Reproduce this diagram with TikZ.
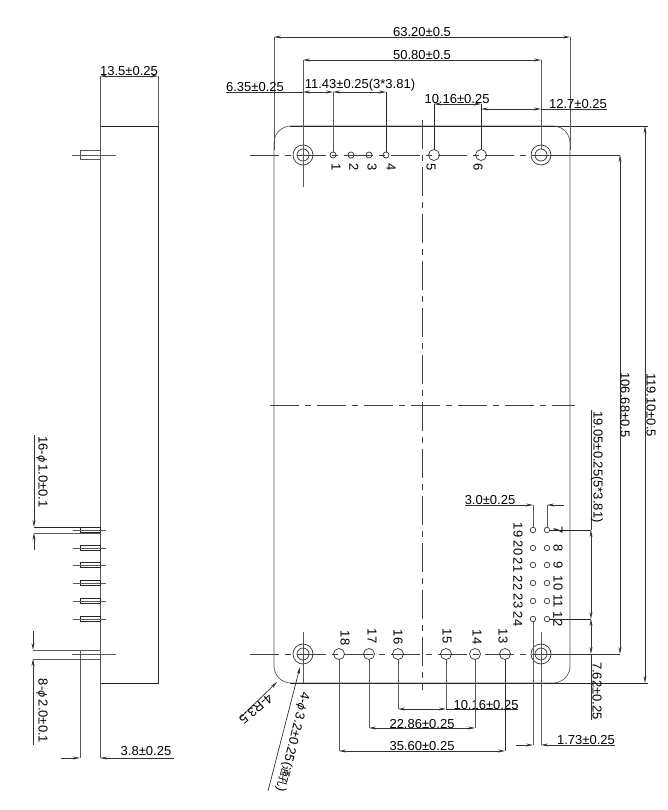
\documentclass[tikz,border=0pt]{standalone}
\usepackage{fontspec}
\setmainfont{Liberation Sans}
\newfontfamily\symfont{DejaVu Sans}
\newfontfamily\cjkfont{Noto Sans CJK SC}
\usetikzlibrary{arrows.meta}
\newcommand{\dia}{{\symfont\itshape\fontsize{11}{11}\selectfont ϕ}}
\tikzstyle{every node}=[inner sep=0pt,font=\fontsize{13}{13}\selectfont]
\tikzstyle{part}=[line width=0.9pt,black!85]
\tikzstyle{thinpart}=[line width=0.7pt,black!65]
\tikzstyle{dimline}=[line width=0.7pt,black!80,>={Stealth[length=7pt,width=3pt]}]
\tikzstyle{axisline}=[line width=0.6pt,black!75,dash pattern=on 29pt off 6pt on 6pt off 6pt]
\tikzstyle{hole}=[circle,draw,line width=0.7pt,black!80]
\tikzstyle{pinnum}=[rotate=-90]

\begin{document}
\begin{tikzpicture}[x=1pt,y=-1pt]
  \useasboundingbox (0,0) rectangle (667,810);

  % front view
  \draw[thinpart,rounded corners=17pt] (274,405) -- (274,683) -- (570,683) -- (570,405);
  \draw[thinpart,rounded corners=17pt] (274,405) -- (274,126) -- (570,126) -- (570,405);
  \draw[part] (290,126) -- (648,126);
  \draw[part] (290,683) -- (648,683);
  \draw[thinpart] (274,37) -- (274,150);
  \draw[thinpart] (570,37) -- (570,150);

  % center lines
  \draw[axisline] (250,155) -- (610,155);
  \draw[axisline] (250,654) -- (610,654);
  \draw[axisline] (270,405) -- (575,405);
  \draw[axisline] (422,120) -- (422,690);
  \draw[thinpart] (303,632) -- (303,683);
  \draw[thinpart] (541,632) -- (541,745);

  % mounting holes
  \foreach \name/\x/\y in {mtA/303/155,mtB/541/155,mtC/303/654,mtD/541/654} {
    \node[hole,minimum size=20pt] (\name) at (\x,\y) {};
    \node[hole,minimum size=12pt] (\name i) at (\x,\y) {};
  }

  % pins
  \foreach \n/\x in {1/333,2/351,3/369,4/386}
    \node[hole,minimum size=6pt] (pin\n) at (\x,155) {};
  \foreach \n/\x in {5/434,6/481}
    \node[hole,minimum size=11pt] (pin\n) at (\x,155) {};
  \foreach \n/\x in {18/339,17/369,16/398,15/446,14/475,13/505}
    \node[hole,minimum size=11pt] (pin\n) at (\x,654) {};
  \foreach \a/\b/\y in {19/7/530,20/8/548,21/9/565,22/10/583,23/11/601,24/12/619} {
    \node[hole,minimum size=5.5pt] (pin\a) at (533,\y) {};
    \node[hole,minimum size=5.5pt] (pin\b) at (547,\y) {};
    \node[pinnum] (num\a) at (518,\y) {\a};
    \node[pinnum] (num\b) at (558,\y) {\b};
  }
  \foreach \n/\x in {1/336,2/354,3/372,4/391,5/431,6/478}
    \node[pinnum] (num\n) at (\x,167) {\n};
  \foreach \n/\x/\y in {18/345/638,17/372/636,16/398/637,15/447/636,14/477/637,13/503/636}
    \node[pinnum] (num\n) at (\x,\y) {\n};

  % top dimensions
  \draw[dimline,<->] (274,37) -- (570,37);
  \node (dimWidth) at (422,32) {63.20±0.5};
  \draw[dimline,<->] (mtA.center |- 0,60) -- (mtB.center |- 0,60);
  \node (dimHoles) at (422,55) {50.80±0.5};
  \draw[thinpart] (303,60) -- (303,187);
  \draw[thinpart] (541,60) -- (mtBi.north);
  \draw[dimline] (226,92) -- (303,92);
  \node (dimLeft) at (255,87) {6.35±0.25};
  \draw[dimline,<->] (303,92) -- (333,92);
  \draw[dimline,<->] (333,92) -- (386,92);
  \node (dimPins) at (360,85) {11.43±0.25(3*3.81)};
  \draw[thinpart] (333,92) -- (pin1.north);
  \draw[part] (386,92) -- (pin4.north);
  \draw[dimline,<->] (434,104) -- (481,104);
  \node (dimFive) at (457,99) {10.16±0.25};
  \draw[part] (434,104) -- (pin5.north);
  \draw[part] (481,104) -- (pin6.north);
  \draw[dimline,<->] (481,109) -- (541,109);
  \draw[dimline] (541,109) -- (607,109);
  \node (dimRight) at (578,104) {12.7±0.25};

  % right dimensions
  \draw[dimline,<->] (645,126) -- (645,683);
  \node[rotate=-90] (dimHeight) at (651,405) {119.10±0.5};
  \draw[dimline,<->] (620,155) -- (620,654);
  \node[rotate=-90] (dimHoleV) at (625,405) {106.68±0.5};
  \draw[dimline] (mtB.east) -- (620,155);
  \draw[dimline] (mtD.east) -- (620,654);
  \draw[dimline] (591,410) -- (591,530);
  \draw[dimline,<->] (591,530) -- (591,619);
  \draw[part] (pin7.east) -- (591,530);
  \draw[part] (pin12.east) -- (591,619);
  \node[rotate=-90] (dimRow) at (597,467) {19.05±0.25(5*3.81)};
  \draw[dimline,<->] (591,619) -- (591,654);
  \draw[dimline] (591,654) -- (591,720);
  \node[rotate=-90] (dimLow) at (597,691) {7.62±0.25};
  \draw[dimline,->] (465,505) -- (533,505);
  \draw[dimline,->] (564,505) -- (547,505);
  \node (dimGap) at (490,500) {3.0±0.25};
  \draw[thinpart] (533,505) -- (pin19.north);
  \draw[thinpart] (547,505) -- (pin7.north);

  % bottom dimensions
  \draw[thinpart] (pin24.south) -- (533,745);
  \draw[dimline,->] (516,745) -- (533,745);
  \draw[dimline,->] (615,745) -- (541,745);
  \node (dimEdge) at (586,740) {1.73±0.25};
  \draw[dimline,<->] (398,709) -- (446,709);
  \draw[dimline] (446,709) -- (518,709);
  \node (dimBotA) at (486,705) {10.16±0.25};
  \draw[thinpart] (pin16.south) -- (398,709);
  \draw[thinpart] (pin15.south) -- (446,709);
  \draw[dimline,<->] (369,728) -- (475,728);
  \node (dimBotB) at (422,724) {22.86±0.25};
  \draw[thinpart] (pin17.south) -- (369,728);
  \draw[thinpart] (pin14.south) -- (475,728);
  \draw[dimline,<->] (339,751) -- (505,751);
  \node (dimBotC) at (422,746) {35.60±0.25};
  \draw[thinpart] (pin18.south) -- (339,751);
  \draw[part] (pin13.south) -- (505,751);

  % leaders
  \draw[dimline,->] (240,718) -- (277,682);
  \node[rotate=-140] (dimCorner) at (256,709) {4-R3.5};
  \draw[dimline,->] (268,791) -- (300,667);
  \node[rotate=-104] (dimMount) at (292.5,742) {4-\dia\,3.2±0.25({\cjkfont\fontsize{11}{11}\selectfont 通孔})};

  % side view
  \draw[part] (100,126) -- (158,126) -- (158,683) -- (100,683);
  \draw[thinpart] (100,76) -- (100,758);
  \draw[thinpart] (158,76) -- (158,126);
  \draw[dimline,<->] (100,76) -- (158,76);
  \node (dimDepth) at (129,71) {13.5±0.25};
  \draw[thinpart] (80,150) rectangle (100,159);
  \draw[thinpart] (72,155) -- (116,155);
  \foreach \y in {530,548,565,583,601,619} {
    \draw[part] (80,\y-2.5) rectangle (100,\y+2.5);
    \draw[thinpart] (73,\y) -- (106,\y);
  }
  \draw[thinpart] (72,654) -- (116,654);
  \draw[thinpart] (80,650) -- (80,758);

  % side view dimensions
  \draw[part] (34,527) -- (100,527);
  \draw[thinpart] (34,533) -- (100,533);
  \draw[dimline,->] (34,435) -- (34,527);
  \draw[dimline,->] (34,550) -- (34,533);
  \node[rotate=-90] (dimSmall) at (42,472) {16-\dia\,1.0±0.1};
  \draw[thinpart] (33,650) -- (100,650);
  \draw[thinpart] (33,659) -- (100,659);
  \draw[dimline,->] (33,631) -- (33,650);
  \draw[dimline,->] (33,745) -- (33,659);
  \node[rotate=-90] (dimLarge) at (42,711) {8-\dia\,2.0±0.1};
  \draw[dimline,->] (61,758) -- (80,758);
  \draw[dimline,->] (174,758) -- (100,758);
  \node (dimPinLen) at (146,751) {3.8±0.25};
\end{tikzpicture}
\end{document}
